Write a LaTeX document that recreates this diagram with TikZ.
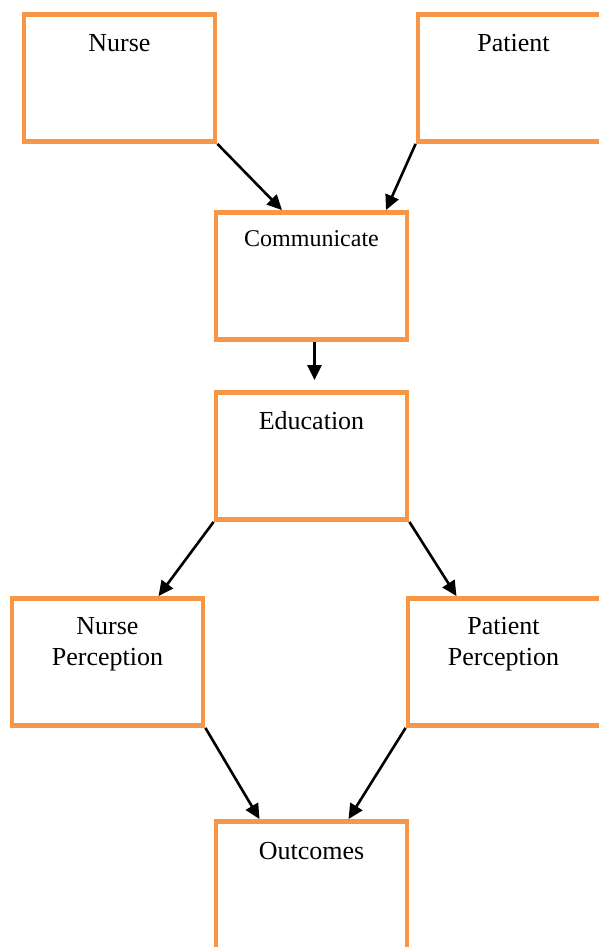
\documentclass[tikz,border=0pt]{standalone}
\usepackage{fontspec}
\setmainfont{Liberation Serif}
\usetikzlibrary{arrows.meta}
\definecolor{boxorange}{HTML}{F79646}

\begin{document}
\begin{tikzpicture}[x=1pt, y=-1pt,
  box/.style={draw=boxorange, line width=4.8pt, minimum width=191pt, minimum height=127pt, inner sep=0pt},
  boxtext/.style={anchor=base, align=center, inner sep=0pt, font=\fontsize{26}{31}\selectfont},
  link/.style={line width=2.6pt, -{Triangle[length=15pt,width=14pt]}}]
% Set the page size (1pt = 1 pixel of the original)
\useasboundingbox (0,0) rectangle (599,947);
\clip (0,0) rectangle (599,947);

% Draw the boxes
\node[box] (nurse) at (119.5,78) {};
\node[box] (patient) at (513.5,78) {};
\node[box] (comm) at (311.5,276) {};
\node[box] (edu) at (311.5,456) {};
\node[box] (nurseperc) at (107.5,662) {};
\node[box, minimum width=200pt] (patperc) at (508,662) {};
\node[box, minimum height=140pt] (outcomes) at (311.5,891.5) {};

% Insert the labels (base of two-line labels is the last line)
\node[boxtext] (nursetext) at ([yshift=-39pt]nurse.north) {Nurse};
\node[boxtext] (patienttext) at ([yshift=-39pt]patient.north) {Patient};
\node[boxtext, font=\fontsize{24}{29}\selectfont] (commtext) at ([yshift=-36pt]comm.north) {Communicate};
\node[boxtext] (edutext) at ([yshift=-39pt]edu.north) {Education};
\node[boxtext] (nurseperctext) at ([yshift=-69pt]nurseperc.north) {Nurse\\Perception};
\node[boxtext] (patperctext) at ([xshift=-4.5pt,yshift=-69pt]patperc.north) {Patient\\Perception};
\node[boxtext] (outcomestext) at ([yshift=-40pt]outcomes.north) {Outcomes};

% Draw the arrows
\draw[link] (nurse.south east) -- ([xshift=-29.5pt]comm.north);
\draw[link] (patient.south west) -- ([xshift=74.5pt]comm.north);
\draw[link] ([xshift=3pt]comm.south) -- ([xshift=3pt,yshift=10pt]edu.north);
\draw[link] (edu.south west) -- ([xshift=51pt]nurseperc.north);
\draw[link] (edu.south east) -- ([xshift=-51.5pt]patperc.north);
\draw[link] (nurseperc.south east) -- ([xshift=-52pt]outcomes.north);
\draw[link] (patperc.south west) -- ([xshift=37pt]outcomes.north);
\end{tikzpicture}
\end{document}
